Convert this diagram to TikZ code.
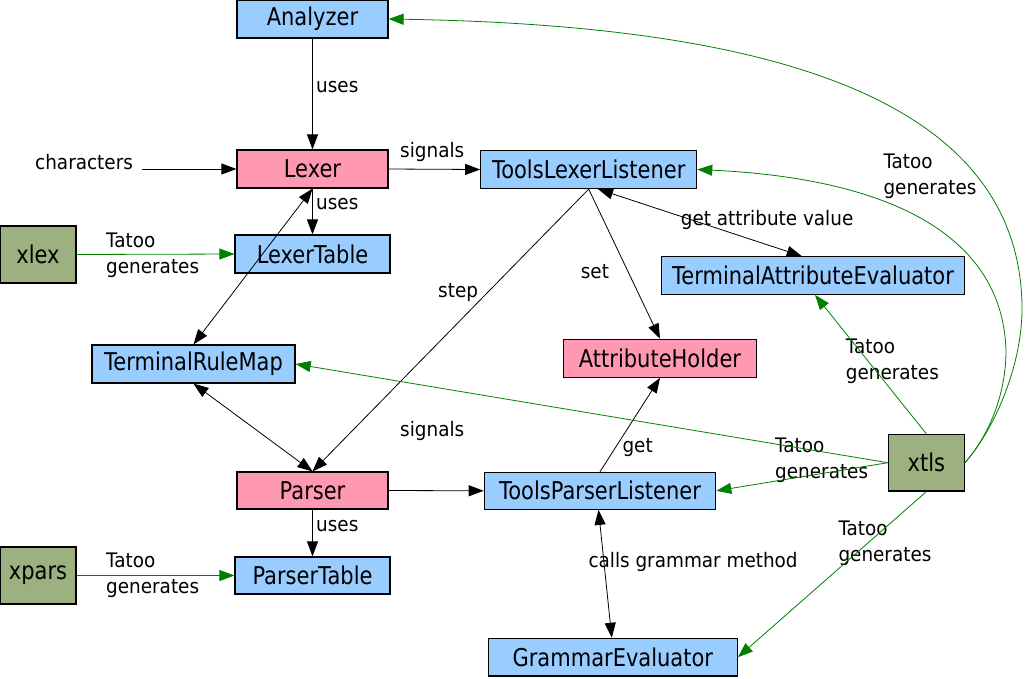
\documentclass[tikz,border=0pt]{standalone}
\usepackage{fontspec}
\setmainfont{DejaVu Sans}
\newfontfamily\nodefont[FakeStretch=0.857]{DejaVu Sans}
\newfontfamily\lblfont[FakeStretch=0.92]{DejaVu Sans}
\usetikzlibrary{arrows.meta}
\definecolor{boxblue}{HTML}{99CCFF}
\definecolor{boxpink}{HTML}{FF99B2}
\definecolor{boxgreen}{HTML}{9DB080}
\definecolor{gen}{HTML}{008000}
\begin{document}
\begin{tikzpicture}[x=1pt,y=-1pt,
  box/.style={draw=black, line width=1.2pt, inner sep=0pt, anchor=center,
    font=\nodefont\fontsize{24.5}{26}\selectfont},
  bluebox/.style={box, fill=boxblue},
  pinkbox/.style={box, fill=boxpink},
  greenbox/.style={box, fill=boxgreen},
  lbl/.style={inner sep=0pt, anchor=base west, font=\lblfont\fontsize{20}{26}\selectfont},
  lbltwo/.style={inner sep=0pt, anchor=north west, align=left, font=\lblfont\fontsize{20}{26}\selectfont},
  uses/.style={line width=0.8pt, -{Triangle[length=15pt,width=11pt]}},
  both/.style={line width=0.8pt, {Triangle[length=15pt,width=11pt]}-{Triangle[length=15pt,width=11pt]}},
  gener/.style={draw=gen, line width=0.8pt, -{Triangle[length=15pt,width=11pt]}, gen}
]
\fill[white] (0,0) rectangle (1033,678);
\useasboundingbox (0,0) rectangle (1033,678);

% nodes
\node[bluebox, minimum width=151pt, minimum height=38pt] (ana) at (312.5,19) {Analyzer};
\node[pinkbox, minimum width=151pt, minimum height=38pt] (lex) at (312.5,169) {Lexer};
\node[bluebox, minimum width=155pt, minimum height=38pt] (lext) at (312.5,254) {LexerTable};
\node[greenbox, minimum width=76pt, minimum height=57pt] (xlex) at (38,254.5) {xlex};
\node[bluebox, minimum width=216pt, minimum height=38pt] (tll) at (588.7,169.5) {ToolsLexerListener};
\node[bluebox, minimum width=302.6pt, minimum height=37.6pt] (tae) at (813,275.5) {TerminalAttributeEvaluator};
\node[bluebox, minimum width=203pt, minimum height=38pt] (trm) at (193.5,364) {TerminalRuleMap};
\node[pinkbox, minimum width=193.4pt, minimum height=38pt] (ah) at (660,358.3) {AttributeHolder};
\node[pinkbox, minimum width=151pt, minimum height=37pt] (par) at (312.5,490.5) {Parser};
\node[bluebox, minimum width=231.4pt, minimum height=37pt] (tpl) at (600,490.8) {ToolsParserListener};
\node[bluebox, minimum width=155pt, minimum height=37pt] (part) at (312.5,575.5) {ParserTable};
\node[greenbox, minimum width=76pt, minimum height=57pt] (xpars) at (38,575.5) {xpars};
\node[bluebox, minimum width=249pt, minimum height=37.7pt] (ge) at (612.8,657.2) {GrammarEvaluator};
\node[greenbox, minimum width=76pt, minimum height=56.7pt] (xtls) at (926.3,462.7) {xtls};

% labels
\node[lbl] (l1) at (316,92.7) {uses};
\node[lbl] (chars) at (35,169) {characters};
\node[lbl] (l3) at (400,157) {signals};
\node[lbl] (l4) at (316,209) {uses};
\node[lbl] (l5) at (438,297) {step};
\node[lbl] (l6) at (580.7,278.3) {set};
\node[lbl] (l7) at (680.7,225) {get attribute value};
\node[lbl] (l8) at (400,436.7) {signals};
\node[lbl] (l9) at (622.3,452.3) {get};
\node[lbl] (l10) at (316,531.7) {uses};
\node[lbl] (l11) at (588.3,567.7) {calls grammar method};
\node[lbltwo] (g1) at (106,232.4) {Tatoo\\generates};
\node[lbltwo] (g2) at (106,553.1) {Tatoo\\generates};
\node[lbltwo] (g3) at (883.3,153.7) {Tatoo\\generates};
\node[lbltwo] (g4) at (845.7,338.7) {Tatoo\\generates};
\node[lbltwo] (g5) at (775,437.7) {Tatoo\\generates};
\node[lbltwo] (g6) at (838.3,520.4) {Tatoo\\generates};

% black connectors
\coordinate (chr) at (142,169);
\draw[uses] (ana.south) -- (lex.north);
\draw[uses] (chr) -- (lex.west);
\draw[uses] (lex.east) -- (tll.west);
\draw[uses] (lex.south) -- (lext.north);
\draw[both] (trm.north) -- (lex.south);
\draw[both] (trm.south) -- (par.north);
\draw[uses] (tll.south) -- (par.north);
\draw[both] ([xshift=9.3pt]tll.south) -- ([xshift=-11.3pt]tae.north);
\draw[uses] (tll.south) -- (ah.north);
\draw[uses] (tpl.north) -- (ah.south);
\draw[uses] (par.east) -- (tpl.west);
\draw[uses] (par.south) -- (part.north);
\draw[both] ([xshift=-1.5pt]tpl.south) -- ([xshift=-1pt]ge.north);

% green connectors
\coordinate (o1) at (1022,305);
\coordinate (i1) at (1006,350);
\draw[gener] (xlex.east) -- (lext.west);
\draw[gener] (xpars.east) -- (part.west);
\draw[gener] (xtls.east) .. controls (990,435) and (1023,370) .. (o1)
  .. controls (1018,90) and (750,25) .. (ana.east);
\draw[gener] (xtls.east) .. controls (985,440) and (1006,400) .. (i1)
  .. controls (1002,230) and (880,178) .. (tll.east);
\draw[gener] (xtls.north) -- ([xshift=2pt]tae.south);
\draw[gener] (xtls.west) -- (trm.east);
\draw[gener] (xtls.west) -- (tpl.east);
\draw[gener] (xtls.south) -- (ge.east);
\end{tikzpicture}
\end{document}
